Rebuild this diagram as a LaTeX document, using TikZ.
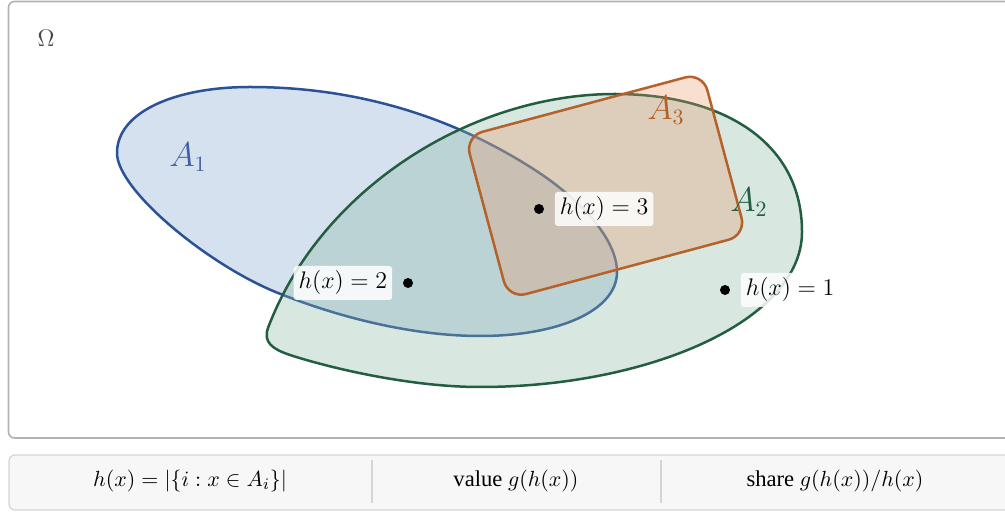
\documentclass[tikz,border=0pt]{standalone}
\usepackage{fontspec}
\setmainfont{Liberation Serif}
\usepackage{xcolor}
\usepackage{tikz}
\usetikzlibrary{positioning}
\definecolor{setblue}{RGB}{43,82,148}
\definecolor{setbluefill}{RGB}{214,225,240}
\definecolor{setgreen}{RGB}{35,94,64}
\definecolor{setgreenfill}{RGB}{136,183,161}
\definecolor{setorange}{RGB}{181,97,42}
\definecolor{setorangefill}{RGB}{232,150,100}
\definecolor{framegray}{RGB}{178,178,178}
\definecolor{tablegray}{RGB}{212,212,212}
\definecolor{tablebg}{RGB}{247,247,247}
\definecolor{omegagray}{RGB}{70,70,70}

\begin{document}
\begin{tikzpicture}[
  x=0.5pt, y=-0.5pt,
  node distance=5pt,
  setline/.style={line width=1.25pt, line join=round},
  setname/.style={font=\fontsize{16}{18}\selectfont},
  dotpt/.style={circle, fill=black, inner sep=0pt, minimum size=5pt},
  hval/.style={
    rectangle, rounded corners=1.5pt,
    fill=white, fill opacity=0.85, text opacity=1,
    inner sep=2.5pt, font=\fontsize{12.4}{15}\selectfont
  },
  cell/.style={font=\fontsize{11.3}{14}\selectfont},
  sepline/.style={draw=tablegray, line width=0.6pt}
]
\useasboundingbox (0,0) rectangle (1005,512);
\clip (0,0) rectangle (1005,512);

% sample space
\draw[framegray, line width=0.8pt, fill=white, rounded corners=3pt]
  (8.5,1.5) rectangle (1040,438);
\node[text=omegagray, font=\fontsize{11.5}{14}\selectfont] (omega) at (46,38) {$\Omega$};

% A_1
\filldraw[setline, draw=setblue, fill=setbluefill]
  (117,153) .. controls (117,112) and (175,87) .. (250,87)
  .. controls (350,87) and (448,113) .. (538,172)
  .. controls (583,202) and (617,240) .. (617,272)
  .. controls (617,310) and (560,336) .. (480,336)
  .. controls (420,336) and (348,321) .. (278,293)
  .. controls (208,265) and (117,190) .. (117,153) -- cycle;

% A_2
\filldraw[setline, draw=setgreen, fill=setgreenfill, fill opacity=0.32]
  (615,94) .. controls (470,94) and (320,190) .. (268,328)
  .. controls (263,342) and (272,349) .. (290,355)
  .. controls (330,368) and (410,387) .. (480,387)
  .. controls (650,387) and (802,320) .. (802,232)
  .. controls (802,140) and (720,94) .. (615,94) -- cycle;

% A_3
\filldraw[setline, draw=setorange, fill=setorangefill, fill opacity=0.3,
  rounded corners=9pt, rotate around={15:(605.6,185.75)}]
  (482.6,101.75) rectangle (728.6,269.75);

\node[setname, text=setblue!90!white] (nameA1) at (188,157) {$A_1$};
\node[setname, text=setgreen] (nameA2) at (749,202) {$A_2$};
\node[setname, text=setorange] (nameA3) at (666,110) {$A_3$};

% sample points
\node[dotpt] (pt3) at (539,209) {};
\node[hval, right=of pt3] (hval3) {$h(x)=3$};
\node[dotpt] (pt2) at (408,283) {};
\node[hval, left=of pt2] (hval2) {$h(x)=2$};
\node[dotpt] (pt1) at (725,290) {};
\node[hval, right=of pt1] (hval1) {$h(x)=1$};

% legend row
\draw[tablegray, line width=0.6pt, fill=tablebg, rounded corners=3pt]
  (9,455) rectangle (1040,510);
\node[cell] (colcount) at (190,481) {$h(x)=|\{i:x\in A_i\}|$};
\node[cell] (colvalue) at (516,481) {value $g(h(x))$};
\node[cell] (colshare) at (835,481) {share $g(h(x))/h(x)$};
\draw[sepline] (372,460) -- (372,503);
\draw[sepline] (661,460) -- (661,503);

\end{tikzpicture}
\end{document}
